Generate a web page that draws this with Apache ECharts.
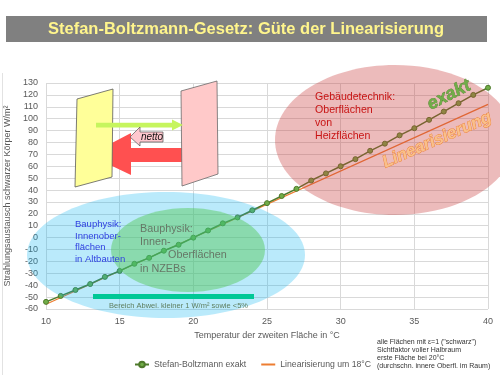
<!DOCTYPE html>
<html><head><meta charset="utf-8">
<script src="https://cdn.jsdelivr.net/npm/echarts@6/dist/echarts.min.js"></script>
<style>html,body{margin:0;padding:0;background:#fff}#c{width:500px;height:375px}</style>
</head><body><div id="c"></div>
<script>
// Data
const tempsC = [10,11,12,13,14,15,16,17,18,19,20,21,22,23,24,25,26,27,28,29,30,31,32,33,34,35,36,37,38,39,40];
const exactWm2 = [-54,-49,-44,-39,-33,-28,-22,-17,-11,-6,0,6,12,17,23,29,35,41,48,54,60,66,73,79,86,92,99,106,113,120,126];
const linTemps = [10,40];
const linWm2 = [-56,112];
const xTicks = {min:10,max:40,interval:5};
const yTicks = {min:-60,max:130,interval:10};
const seriesNames = ['Stefan-Boltzmann exakt','Linearisierung um 18°C'];

const FONT = '"Liberation Sans", Arial, sans-serif';
const chart = echarts.init(document.getElementById('c'), null, {renderer:'canvas'});

const ell = (cx,cy,rx,ry,fill,z)=>({type:'ellipse',z:z,silent:true,shape:{cx,cy,rx,ry},style:{fill:fill}});
const txt = (x,y,text,o)=>Object.assign({type:'text',z:30,silent:true,x:x,y:y,style:Object.assign({text:text,font:'10px '+FONT,fill:'#333',textAlign:'left',textVerticalAlign:'middle'},o.style||{})},o.el||{});

const option = {
  animation:false,
  backgroundColor:'#fff',
  grid:{left:46,right:12,top:83,bottom:66,outerBoundsMode:'none'},
  xAxis:{type:'value',min:xTicks.min,max:xTicks.max,interval:xTicks.interval,
    name:'Temperatur der zweiten Fläche in °C',nameLocation:'middle',nameGap:21,
    nameTextStyle:{fontSize:9,color:'#595959',fontFamily:FONT},
    axisLine:{show:false},axisTick:{show:false},
    axisLabel:{fontSize:9,color:'#595959',margin:8,fontFamily:FONT},
    splitLine:{show:true,lineStyle:{color:'#D9D9D9',width:1}}},
  yAxis:{type:'value',min:yTicks.min,max:yTicks.max,interval:yTicks.interval,
    name:'Strahlungsaustausch schwarzer Körper W/m²',nameLocation:'middle',nameGap:31,nameRotate:90,
    nameTextStyle:{fontSize:9,color:'#595959',fontFamily:FONT},
    axisLine:{show:false},axisTick:{show:false},
    axisLabel:{fontSize:9,color:'#595959',margin:8,fontFamily:FONT},
    splitLine:{show:true,lineStyle:{color:'#D9D9D9',width:1}}},
  legend:{left:134,top:360,padding:0,itemWidth:14,itemHeight:7,itemGap:14,
    textStyle:{fontSize:8.7,color:'#595959',fontFamily:FONT},
    data:[{name:seriesNames[0]},{name:seriesNames[1],itemStyle:{opacity:0}}]},
  series:[
    {name:seriesNames[0],type:'line',z:3,data:tempsC.map((t,i)=>[t,exactWm2[i]]),
      symbol:'circle',symbolSize:5,showSymbol:true,
      lineStyle:{color:'#4F7A2C',width:1.5},
      itemStyle:{color:'#70AD47',borderColor:'#4F7A2C',borderWidth:1}},
    {name:seriesNames[1],type:'line',z:2,data:linTemps.map((t,i)=>[t,linWm2[i]]),
      symbol:'none',lineStyle:{color:'#ED7D31',width:1.2},itemStyle:{color:'#ED7D31'}}
  ],
  graphic:{elements:[
    // slide frame (left edge)
    {type:'line',z:0,silent:true,shape:{x1:2.5,y1:73,x2:2.5,y2:375},style:{stroke:'#E2E2E2',lineWidth:1}},
    // title banner
    {type:'rect',z:1,silent:true,shape:{x:6,y:16,width:481,height:26},style:{fill:'#808080'}},
    txt(246,29.5,'Stefan-Boltzmann-Gesetz: Güte der Linearisierung',{style:{font:'bold 16.5px '+FONT,fill:'#FFF58C',textAlign:'center'}}),
    // parallelograms
    {type:'polygon',z:5,silent:true,shape:{points:[[77,99],[113,89],[112,177],[75,187]]},style:{fill:'#FFFF99',stroke:'#5a5a5a',lineWidth:0.8}},
    {type:'polygon',z:5,silent:true,shape:{points:[[181,91],[217,81],[218,174],[182,186]]},style:{fill:'#FFC9C9',stroke:'#6a6a6a',lineWidth:0.8}},
    // red arrow (under pink panel edge)
    {type:'polygon',z:4,silent:true,shape:{points:[[182,148],[131,148],[131,133],[89,155],[131,175],[131,162],[182,162]]},style:{fill:'#FF5050'}},
    // green arrow
    {type:'rect',z:6,silent:true,shape:{x:96,y:122.8,width:77,height:4.6},style:{fill:'#C6F55E'}},
    {type:'polygon',z:6,silent:true,shape:{points:[[172,119.5],[183,125],[172,130.5]]},style:{fill:'#C6F55E'}},
    // netto callout
    {type:'polygon',z:7,silent:true,shape:{points:[[163,132],[163,142],[140,142],[140,146],[130,137],[140,127],[140,132]]},style:{fill:'#FFC7CE',stroke:'#555',lineWidth:0.7}},
    txt(152,137,'netto',{style:{font:'italic 10px '+FONT,fill:'#111',textAlign:'center'}}),
    // ellipses (semi-transparent, above series)
    ell(166,255,139,63,'rgba(0,176,240,0.27)',10),
    ell(188,250,77,42,'rgba(80,200,80,0.45)',11),
    ell(395,140,120,75,'rgba(200,60,60,0.35)',10),
    // teal range bar
    {type:'rect',z:12,silent:true,shape:{x:93,y:294,width:161,height:5},style:{fill:'#00C896'}},
    txt(109,306,'Bereich Abwei. kleiner 1 W/m² sowie <5%',{style:{font:'7.5px '+FONT,fill:'#5E7E5E'}}),
    // ellipse texts
    txt(75,225,'Bauphysik:\nInnenober-\nflächen\nin Altbauten',{style:{font:'9.5px '+FONT,fill:'#2E3FE0',textVerticalAlign:'top',lineHeight:11.4},el:{y:219}}),
    txt(140,229,'Bauphysik:\nInnen-',{style:{font:'10.8px '+FONT,fill:'#667766',textVerticalAlign:'top',lineHeight:13},el:{y:222.5}}),
    txt(168,255,'Oberflächen',{style:{font:'10.8px '+FONT,fill:'#667766'}}),
    txt(140,269,'in NZEBs',{style:{font:'10.8px '+FONT,fill:'#667766'}}),
    txt(315,97,'Gebäudetechnik:\nOberflächen\nvon\nHeizflächen',{style:{font:'10.6px '+FONT,fill:'#C81414',textVerticalAlign:'top',lineHeight:13.3},el:{y:90}}),
    txt(449,95,'exakt',{style:{font:'bold italic 18px '+FONT,fill:'#70AD47',stroke:'#4F7A2C',lineWidth:0.6,textAlign:'center'},el:{rotation:27*Math.PI/180}}),
    txt(437,140,'Linearisierung',{style:{font:'bold italic 17px '+FONT,fill:'#F9C08A',stroke:'#ED7D31',lineWidth:0.8,textAlign:'center'},el:{rotation:23.5*Math.PI/180}}),
    // notes
    txt(377,342,'alle Flächen mit ε=1 ("schwarz")\nSichtfaktor voller Halbraum\nerste Fläche bei 20°C\n(durchschn. innere Oberfl. im Raum)',{style:{font:'7px '+FONT,fill:'#333',textVerticalAlign:'top',lineHeight:8.1},el:{y:338}})
  ]}
};
chart.setOption(option);
</script></body></html>
